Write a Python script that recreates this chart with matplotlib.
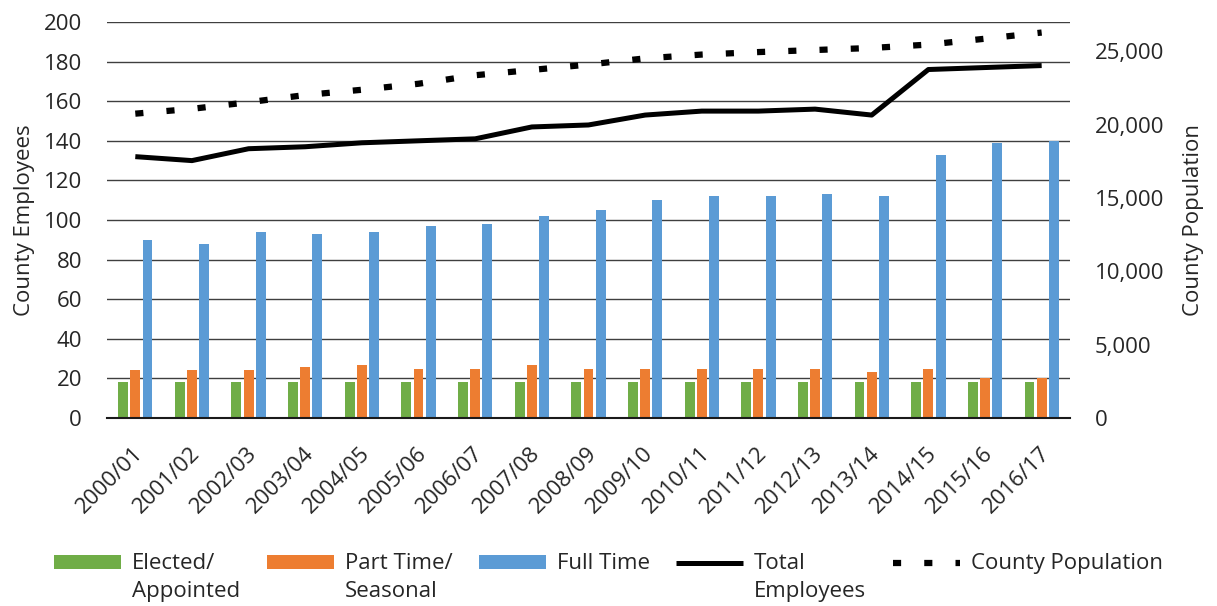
import matplotlib
matplotlib.use('Agg')
import matplotlib.pyplot as plt
import matplotlib.transforms as mtransforms
from matplotlib.container import BarContainer
from matplotlib.lines import Line2D
from matplotlib.legend_handler import HandlerPatch, HandlerLine2D, update_from_first_child
from matplotlib.ticker import FuncFormatter
import numpy as np

# County staffing by fiscal year, with county population on a second scale
years = ['2000/01', '2001/02', '2002/03', '2003/04', '2004/05', '2005/06',
         '2006/07', '2007/08', '2008/09', '2009/10', '2010/11', '2011/12',
         '2012/13', '2013/14', '2014/15', '2015/16', '2016/17']
elected = [18, 18, 18, 18, 18, 18, 18, 18, 18, 18, 18, 18, 18, 18, 18, 18, 18]
part_time = [24, 24, 24, 26, 27, 25, 25, 27, 25, 25, 25, 25, 25, 23, 25, 20, 20]
full_time = [90, 88, 94, 93, 94, 97, 98, 102, 105, 110, 112, 112, 113, 112, 133, 139, 140]
total = [132, 130, 136, 137, 139, 140, 141, 147, 148, 153, 155, 155, 156, 153, 176, 177, 178]
population = [20750, 21080, 21530, 22020, 22380, 22790, 23370, 23730, 24100,
              24520, 24780, 24950, 25090, 25230, 25460, 25860, 26280]

GREEN = '#70ad47'
ORANGE = '#ed7d31'
BLUE = '#5b9bd5'
TEXT = '#262626'
LEG_SPACING = 1.4

plt.rcParams['font.family'] = ['Open Sans', 'DejaVu Sans']
plt.rcParams['font.size'] = 16
plt.rcParams['text.color'] = TEXT
plt.rcParams['xtick.color'] = TEXT
plt.rcParams['ytick.color'] = TEXT
plt.rcParams['axes.labelcolor'] = TEXT

fig = plt.figure(figsize=(12.17, 6.06), dpi=100)
fig.subplots_adjust(left=0.0879, right=0.8792, top=0.9637, bottom=0.3102)
ax = fig.add_subplot(111)
ax2 = ax.twinx()

x = np.arange(len(years))
w = 0.175
off = 0.215
b1 = ax.bar(x - off, elected, w, color=GREEN, label='Elected/\nAppointed')
b2 = ax.bar(x, part_time, w, color=ORANGE, label='Part Time/\nSeasonal')
b3 = ax.bar(x + off, full_time, w, color=BLUE, label='Full Time\n ')
l1, = ax.plot(x, total, color='black', lw=3.6, solid_capstyle='butt',
              label='Total\nEmployees')
l2, = ax2.plot(x, population, color='black', lw=4.5, dashes=(1.3, 3.7),
               dash_capstyle='butt', label='County Population\n ')

ax.set_xlim(-0.5, len(years) - 0.5)
ax.set_ylim(0, 200)
ax.set_yticks(np.arange(0, 201, 20))
ax2.set_ylim(0, 27000)
ax2.set_yticks(np.arange(0, 25001, 5000))
ax2.yaxis.set_major_formatter(FuncFormatter(lambda v, p: f'{v:,.0f}'))

ax.set_axisbelow(True)
ax.grid(axis='y', color='#3f3f3f', lw=1.0)
for a in (ax, ax2):
    for s in ('top', 'left', 'right'):
        a.spines[s].set_visible(False)
ax2.spines['bottom'].set_visible(False)
ax.spines['bottom'].set_color('#1a1a1a')
ax.spines['bottom'].set_linewidth(1.5)

ax.tick_params(axis='y', length=0, pad=18)
ax2.tick_params(axis='y', length=0, pad=18)
ax.set_xticks(x)
ax.set_xticklabels(years, rotation=45, ha='right', va='center',
                   rotation_mode='anchor')
ax.tick_params(axis='x', length=0, pad=23)
shift = mtransforms.ScaledTranslation(5 / 100, 0, fig.dpi_scale_trans)
for lbl in ax.get_xticklabels():
    lbl.set_transform(lbl.get_transform() + shift)

ax.set_ylabel('County Employees')
ax.yaxis.set_label_coords(-0.075, 0.5)
ax2.set_ylabel('County Population')
ax2.yaxis.set_label_coords(1.117, 0.5)


# legend keys sit on the first line of the two-line labels
class RaisedPatch(HandlerPatch):
    def create_artists(self, legend, orig_handle, xdescent, ydescent,
                       width, height, fontsize, trans):
        lift = mtransforms.Affine2D().translate(0, 0.5 * LEG_SPACING * fontsize)
        return super().create_artists(legend, orig_handle, xdescent, ydescent,
                                      width, height, fontsize, lift + trans)


class RaisedLine(HandlerLine2D):
    def create_artists(self, legend, orig_handle, xdescent, ydescent,
                       width, height, fontsize, trans):
        lift = mtransforms.Affine2D().translate(0, 0.5 * LEG_SPACING * fontsize)
        return super().create_artists(legend, orig_handle, xdescent, ydescent,
                                      width, height, fontsize, lift + trans)


handles = [b1, b2, b3, l1, l2]
leg = fig.legend(handles, [h.get_label() for h in handles],
                 loc='upper center', bbox_to_anchor=(0.5, 0.12), ncol=5,
                 frameon=False, handlelength=3.0, handleheight=0.55,
                 handletextpad=0.5, columnspacing=1.2,
                 handler_map={BarContainer: RaisedPatch(update_func=update_from_first_child),
                              Line2D: RaisedLine()})
for t in leg.get_texts():
    t.set_linespacing(LEG_SPACING)

fig.savefig('out.png', dpi=100)
